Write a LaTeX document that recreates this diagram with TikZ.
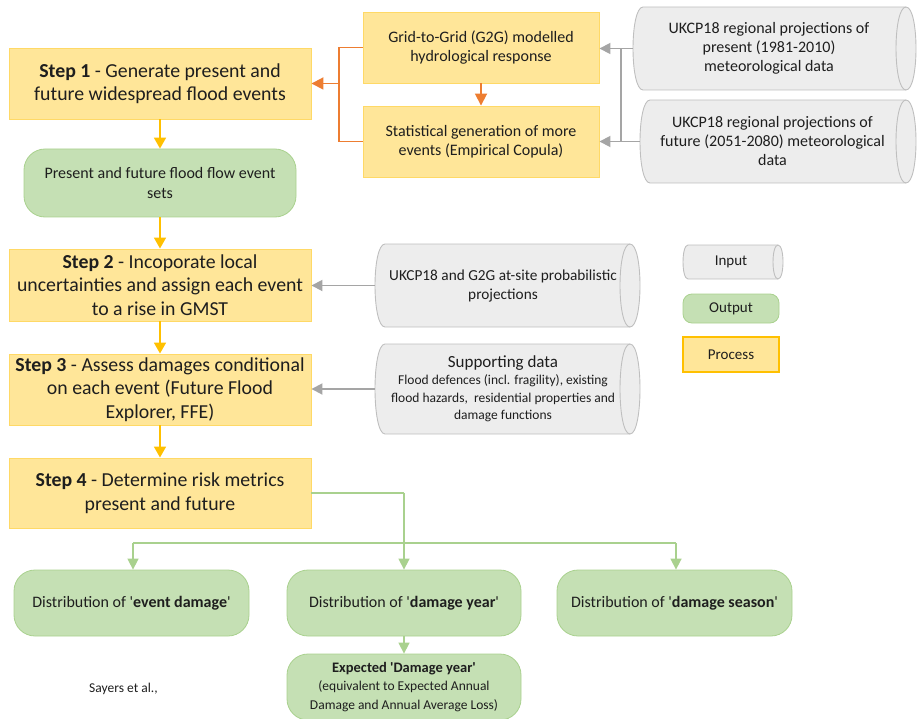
\documentclass[tikz,border=0pt]{standalone}
\usepackage{fontspec}
\setmainfont{Carlito}[Ligatures=TeXOff]
\usetikzlibrary{arrows.meta}
\definecolor{procfill}{HTML}{FFE699}
\definecolor{procline}{HTML}{FFD966}
\definecolor{gold}{HTML}{FFC000}
\definecolor{outfill}{HTML}{C5E0B4}
\definecolor{outline}{HTML}{A9D18E}
\definecolor{infill}{HTML}{EDEDED}
\definecolor{inline}{HTML}{BFBFBF}
\definecolor{orangec}{HTML}{ED7D31}
\definecolor{grayc}{HTML}{A5A5A5}
\definecolor{greenc}{HTML}{A9D18E}
\definecolor{txt}{HTML}{1E1E1E}
% cylinder outline: x1,y1,x2,y2,r
\newcommand\cylpath[5]{%
  \path[fill=infill,draw=inline,line width=0.9pt]
    ({#1+#5},#2) -- ({#3-#5},#2)
    .. controls ({#3-#5+1.333*#5},#2) and ({#3-#5+1.333*#5},#4) .. ({#3-#5},#4)
    -- ({#1+#5},#4)
    .. controls ({#1+#5-1.333*#5},#4) and ({#1+#5-1.333*#5},#2) .. ({#1+#5},#2) -- cycle;
  \draw[inline,line width=0.9pt] ({#3-#5},#2)
    .. controls ({#3-#5-1.333*#5},#2) and ({#3-#5-1.333*#5},#4) .. ({#3-#5},#4);
}
\tikzset{
  every node/.style={text=txt, align=center, inner sep=0pt},
  procbox/.style={rectangle, fill=procfill, draw=procline, line width=0.9pt,
    font=\fontsize{19.8}{23.5}\selectfont},
  outbox/.style={rectangle, rounded corners=21pt, fill=outfill, draw=outline, line width=0.8pt,
    font=\fontsize{16}{19.5}\selectfont},
  inbox/.style={rectangle, draw=none, font=\fontsize{16}{19}\selectfont},
  goldarrow/.style={draw=gold, line width=1.8pt, -{Triangle[width=12pt,length=11pt]}},
  orangeline/.style={draw=orangec, line width=1.8pt},
  orangearrow/.style={orangeline, -{Triangle[width=12pt,length=12pt]}},
  grayline/.style={draw=grayc, line width=1.8pt},
  grayarrow/.style={grayline, -{Triangle[width=11pt,length=11pt]}},
  greenline/.style={draw=greenc, line width=1.5pt},
  greenarrow/.style={greenline, -{Triangle[width=11pt,length=11pt]}},
}
\begin{document}
\begin{tikzpicture}[x=1pt,y=-1pt]
\useasboundingbox (0,0) rectangle (917,719);

% process boxes
\node[procbox, minimum width=302pt, minimum height=71pt] (s1) at (160,83.5)
  {\textbf{Step 1} - Generate present and\\future widespread flood events};
\node[outbox, minimum width=272pt, minimum height=68pt] (ev) at (160,183)
  {Present and future flood flow event\\sets};
\node[procbox, minimum width=302pt, minimum height=72pt] (s2) at (160,285)
  {\textbf{Step 2} - Incoporate local\\uncertainties and assign each event\\to a rise in GMST};
\node[procbox, minimum width=302pt, minimum height=71pt] (s3) at (160,389.5)
  {\textbf{Step 3} - Assess damages conditional\\on each event (Future Flood\\Explorer, FFE)};
\node[procbox, minimum width=302pt, minimum height=70pt] (s4) at (160,493)
  {\textbf{Step 4} - Determine risk metrics\\present and future};

\node[procbox, font=\fontsize{16}{19.5}\selectfont, minimum width=236pt, minimum height=71pt] (g2g) at (481,47.5)
  {Grid-to-Grid (G2G) modelled\\hydrological response};
\node[procbox, font=\fontsize{16}{19.5}\selectfont, minimum width=236pt, minimum height=71pt] (stat) at (481,141.5)
  {Statistical generation of more\\events (Empirical Copula)};

% input cylinders (text nodes span from the left end to just past the inner cap)
\cylpath{633}{7}{916}{90}{10}
\node[inbox, minimum width=272pt, minimum height=83pt] (pres) at (769,48.5)
  {UKCP18 regional projections of\\present (1981-2010)\\meteorological data};
\cylpath{640}{100}{916}{183}{10}
\node[inbox, minimum width=265pt, minimum height=83pt] (fut) at (772.5,141.5)
  {UKCP18 regional projections of\\future (2051-2080) meteorological\\data};
\cylpath{375}{244}{640}{327}{10}
\node[inbox, font=\fontsize{15.3}{19}\selectfont, minimum width=256pt, minimum height=83pt] (ukg) at (503,285.5)
  {UKCP18 and G2G at-site probabilistic\\projections};
\cylpath{375}{344}{640}{434}{10}
\node[inbox, font=\fontsize{13.5}{17.5}\selectfont, minimum width=256pt, minimum height=90pt] (supp) at (503,389)
  {{\fontsize{17}{20}\selectfont Supporting data}\\Flood defences (incl. fragility), existing\\flood hazards,\ \ residential properties and\\damage functions};

% legend
\cylpath{683}{245}{783}{279}{5}
\node[inbox, font=\fontsize{15}{18}\selectfont, minimum width=100pt, minimum height=34pt] (lin) at (731,262) {Input};
\node[outbox, font=\fontsize{15}{18}\selectfont, rounded corners=9pt, minimum width=96pt, minimum height=29pt] (lout) at (731,308.5) {Output};
\node[procbox, draw=gold, line width=1.6pt, font=\fontsize{15}{18}\selectfont, minimum width=96pt, minimum height=35pt] (lproc) at (731,354.5) {Process};

% outputs
\node[outbox, minimum width=235pt, minimum height=66pt] (o1) at (131.5,603)
  {Distribution of '\textbf{event damage}'};
\node[outbox, minimum width=234pt, minimum height=66pt] (o2) at (404,603)
  {Distribution of '\textbf{damage year}'};
\node[outbox, minimum width=235pt, minimum height=66pt] (o3) at (674.5,603)
  {Distribution of '\textbf{damage season}'};
\node[outbox, font=\fontsize{13.5}{18.5}\selectfont, minimum width=234pt, minimum height=66pt] (o4) at (404,687)
  {{\fontsize{14.5}{18}\selectfont\textbf{Expected 'Damage year'}}\\(equivalent to Expected Annual\\Damage and Annual Average Loss)};

\node[font=\fontsize{13.5}{16}\selectfont, anchor=base west] (cite) at (89,692) {Sayers et al.,};

% gold arrows
\draw[goldarrow] (s1) -- (ev);
\draw[goldarrow] (ev) -- (s2);
\draw[goldarrow] (s2) -- (s3);
\draw[goldarrow] (s3) -- (s4);

% orange
\coordinate (ob) at (339,83.5);
\draw[orangeline] (g2g.west) -| (ob) |- (stat.west);
\draw[orangearrow] (ob) -- (s1.east);
\draw[orangearrow] (g2g) -- (stat);

% gray
\coordinate (gj1) at (621,48.5);
\coordinate (gj2) at (621,141.5);
\draw[grayarrow] (pres.west) -- (pres.west -| g2g.east);
\draw[grayarrow] (fut.west) -- (fut.west -| stat.east);
\draw[grayline] (gj1) -- (gj2);
\draw[grayarrow] (ukg.west) -- (ukg.west -| s2.east);
\draw[grayarrow] (supp.west) -- (supp.west -| s3.east);

% green
\coordinate (gc) at (404,493);
\coordinate (gl) at (133,543);
\coordinate (gr) at (676,543);
\draw[greenline] (s4.east) -- (gc);
\draw[greenarrow] (gc) -- (o2.north);
\draw[greenline] (gl) -- (gr);
\draw[greenarrow] (gl) -- (gl |- o1.north);
\draw[greenarrow] (gr) -- (gr |- o3.north);
\draw[greenarrow] (o2) -- (o4);
\end{tikzpicture}
\end{document}
